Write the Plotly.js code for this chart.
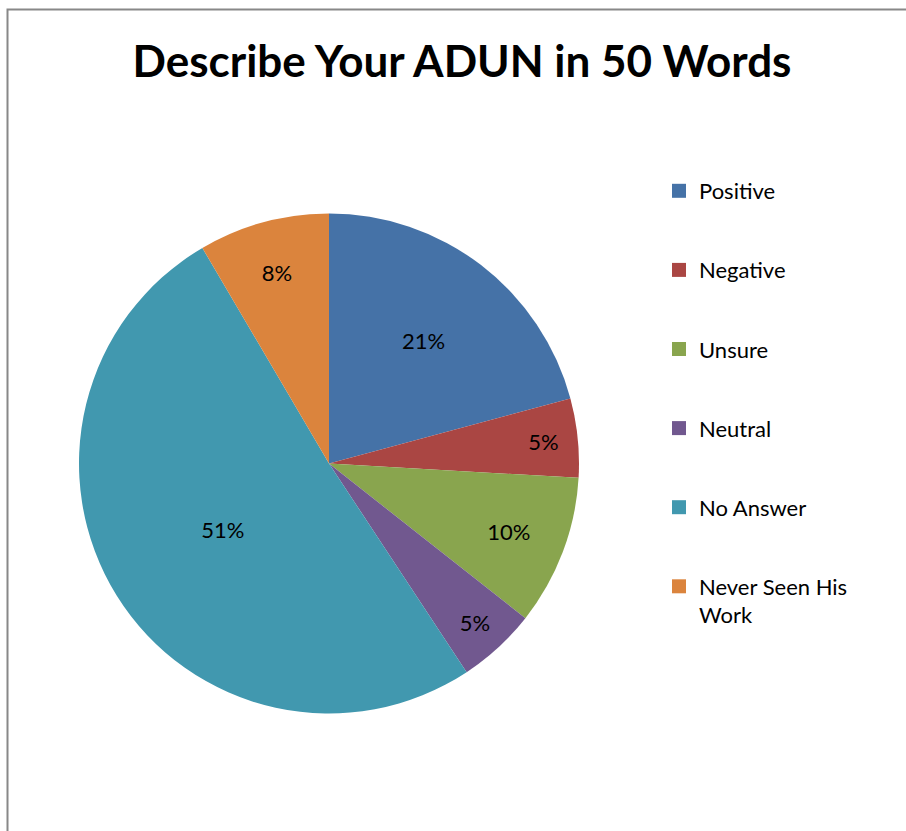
<!DOCTYPE html>
<html>
<head>
<meta charset="utf-8">
<script src="https://cdn.plot.ly/plotly-3.0.1.min.js"></script>
<style>html,body{margin:0;padding:0;background:#fff;}#chart{width:906px;height:831px;}</style>
</head>
<body>
<div id="chart"></div>
<script>
// Data
var categories = ["Positive", "Negative", "Unsure", "Neutral", "No Answer", "Never Seen His Work"];
var shares = [20.8, 5.1, 9.7, 5.1, 50.8, 8.45];
var sliceColors = ["#4572A7", "#AA4643", "#89A54E", "#71588F", "#4198AF", "#DB843D"];
var chartTitle = "Describe Your ADUN in 50 Words";

var W = 906, H = 831;
var font = "Lato, 'Open Sans', sans-serif";

var pie = {
  type: "pie",
  labels: categories,
  values: shares,
  sort: false,
  direction: "clockwise",
  rotation: 0,
  marker: {colors: sliceColors, line: {width: 0}},
  texttemplate: "%{percent:.0%}",
  textposition: "inside",
  insidetextorientation: "horizontal",
  textfont: {family: font, size: 22, color: "#000"},
  hoverinfo: "label+percent",
  showlegend: false,
  domain: {x: [79 / W, 579 / W], y: [1 - 714 / H, 1 - 213 / H]}
};

// Legend entries (one per category, drawn by the library's legend)
var legendTraces = categories.map(function (c, i) {
  return {
    type: "scatter",
    mode: "markers",
    x: [null], y: [null],
    name: c.replace("His ", "His<br>"),
    legendgroup: "g" + i,
    marker: {symbol: "square", size: 14, color: sliceColors[i]},
    hoverinfo: "skip",
    showlegend: true
  };
});

var layout = {
  width: W, height: H,
  margin: {l: 0, r: 0, t: 0, b: 0},
  paper_bgcolor: "#fff",
  plot_bgcolor: "rgba(0,0,0,0)",
  title: {
    text: "<b>" + chartTitle + "</b>",
    font: {family: font, size: 44, color: "#000"},
    x: 462 / W, xanchor: "center",
    y: 1 - 62 / H, yanchor: "middle"
  },
  xaxis: {visible: false},
  yaxis: {visible: false},
  showlegend: true,
  legend: {
    x: 659 / W, xanchor: "left",
    y: 1 - 170 / H, yanchor: "top",
    font: {family: font, size: 22, color: "#000"},
    tracegroupgap: 47.5,
    valign: "top",
    bgcolor: "rgba(0,0,0,0)",
    borderwidth: 0
  },
  shapes: [{
    type: "rect", xref: "paper", yref: "paper",
    x0: 7.5 / W, x1: 1.02, y0: -0.02, y1: 1 - 9.5 / H,
    line: {color: "#888888", width: 2},
    fillcolor: "rgba(0,0,0,0)",
    layer: "below"
  }]
};

Plotly.newPlot("chart", [pie].concat(legendTraces), layout, {displayModeBar: false, staticPlot: true});
</script>
</body>
</html>
